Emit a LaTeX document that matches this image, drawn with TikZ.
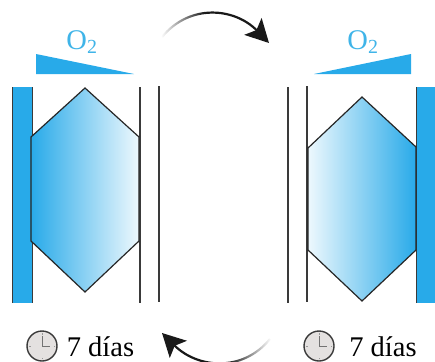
\documentclass[tikz,border=0pt]{standalone}
\usetikzlibrary{arrows.meta,fadings}
\usepackage{fontspec}
\setmainfont{Liberation Serif}
\definecolor{wall}{HTML}{28AAE9}
\definecolor{oxy}{HTML}{3FB4E8}
\definecolor{edge}{HTML}{3A3A3A}
\definecolor{clockface}{HTML}{E4E1E0}
\pgfdeclarehorizontalshading{tailleftshade}{100bp}{color(0bp)=(black); color(25bp)=(black); color(45bp)=(white); color(100bp)=(white)}
\pgfdeclarehorizontalshading{tailrightshade}{100bp}{color(0bp)=(white); color(55bp)=(white); color(75bp)=(black); color(100bp)=(black)}
\pgfdeclarefading{tailleft}{\pgfuseshading{tailleftshade}}
\pgfdeclarefading{tailright}{\pgfuseshading{tailrightshade}}
\tikzset{
  rail/.style={edge,line width=1.2pt},
  cell/.style={draw=black!85,line width=1.2pt},
  label/.style={font=\fontsize{28.5}{30}\selectfont,inner sep=0pt,anchor=base},
  swing/.style={line width=2.2pt,black!90,-{Stealth[length=23pt,width=24pt,inset=5pt]}},
}
\newcommand{\clockface}[1]{
  \draw[fill=clockface,draw=edge,line width=1.4pt] (#1) circle (15);
  \draw[black!55,line width=0.7pt] (#1) ++(0,-10) -- ++(0,10) -- ++(8,0);
  \foreach \ang in {0,90,180,270}
    \draw[black!40,line width=0.5pt] (#1) ++(\ang:13) -- ++(\ang:-1.5);
}
\begin{document}
\begin{tikzpicture}[x=1pt,y=-1pt]
  \useasboundingbox (0,0) rectangle (435,361);

  % Left chamber
  \fill[wall] (12,87) rectangle (32,303);
  \draw[edge,line width=1pt] (12,87) -- (12,303);
  \draw[edge,line width=1pt] (32,87) -- (32,303);
  \draw[rail] (140,87) -- (140,303);
  \draw[rail] (159,86) -- (159,302);
  \draw[cell,left color=wall,right color=wall!8]
    (31,137) -- (85,88) -- (139,137) -- (139,241) -- (85,292) -- (31,241) -- cycle;
  \fill[wall] (36,54) -- (134,74) -- (36,74) -- cycle;
  \node[label,oxy] (oleft) at (82,49) {O\textsubscript{2}};

  % Right chamber
  \fill[wall] (416,87) rectangle (436,303);
  \draw[edge,line width=1pt] (416,87) -- (416,303);
  \draw[rail] (288,87) -- (288,303);
  \draw[rail] (307,86) -- (307,302);
  \draw[cell,left color=wall!8,right color=wall]
    (308,148) -- (362,97) -- (416,147) -- (416,250) -- (362,301) -- (308,250) -- cycle;
  \fill[wall] (411,54) -- (314,74) -- (411,74) -- cycle;
  \node[label,oxy] (oright) at (363,49) {O\textsubscript{2}};

  % Clocks
  \coordinate (clockleft) at (42,346);
  \coordinate (clockright) at (319,346);
  \clockface{clockleft}
  \clockface{clockright}
  \node[label] (dayleft) at (100.5,356) {7 días};
  \node[label] (dayright) at (383,356) {7 días};

  % Swap arrows
  \coordinate (topstart) at (162,37);
  \coordinate (topend) at (269,43);
  \coordinate (botstart) at (270,339);
  \coordinate (botend) at (162,333);
  \draw[swing,path fading=tailleft] (topstart) .. controls (190,3) and (235,8) .. (topend);
  \draw[swing,path fading=tailright] (botstart) .. controls (242,373) and (197,368) .. (botend);
\end{tikzpicture}
\end{document}
